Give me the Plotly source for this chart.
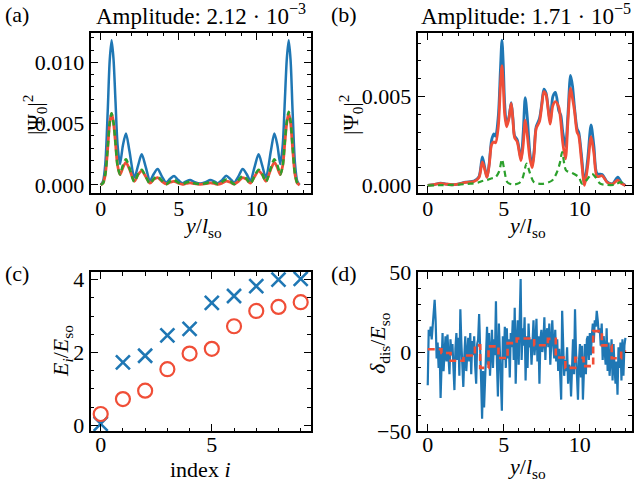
import numpy as np
import plotly.graph_objects as go

FONT = "Liberation Serif"
FS = 22
W, H = 636, 485
BLUE = "#1f77b4"
RED = "#f04e37"
GREEN = "#2ca02c"
E3 = 1e-3

# ---------------- panel (a) ----------------
y_a = [0, 0.15, 0.3, 0.45, 0.58, 0.70, 0.82, 0.95, 1.08, 1.24, 1.42, 1.62, 1.84, 2.16, 2.40,
       2.63, 2.88, 3.16, 3.40, 3.65, 3.92, 4.19, 4.45, 4.70, 4.97, 5.24, 5.48, 5.73, 6.0,
       6.375,
       6.75, 7.02, 7.27, 7.51, 7.78, 8.05, 8.30, 8.56, 8.83, 9.10, 9.35, 9.59, 9.87, 10.12,
       10.35, 10.59, 10.91, 11.13, 11.33, 11.51, 11.67, 11.80, 11.93, 12.05, 12.17, 12.30,
       12.45, 12.60, 12.75]
psi_a_blue = [0, 0.3, 1.8, 6.0, 10.2, 11.8, 10.3, 6.8, 3.3, 1.7, 3.2, 4.2, 2.8, 0.6, 1.6,
              2.5, 1.5, 0.35, 0.9, 1.3, 0.7, 0.2, 0.5, 0.73, 0.4, 0.14, 0.3, 0.4, 0.25,
              0.12,
              0.25, 0.4, 0.3, 0.14, 0.4, 0.76, 0.5, 0.2, 0.7, 1.3, 0.9, 0.35, 1.5, 2.5,
              1.6, 0.6, 2.8, 4.2, 3.2, 1.7, 3.3, 6.8, 10.3, 11.8, 10.2, 6.0, 1.8, 0.3, 0]
psi_a_red = [0, 0.15, 0.9, 3.0, 5.1, 5.84, 5.1, 3.4, 1.6, 0.85, 1.4, 1.85, 1.3, 0.3, 0.85,
             1.15, 0.7, 0.15, 0.45, 0.6, 0.3, 0.08, 0.22, 0.3, 0.15, 0.05, 0.12, 0.17, 0.1,
             0.05,
             0.1, 0.17, 0.12, 0.05, 0.15, 0.32, 0.22, 0.08, 0.3, 0.6, 0.45, 0.15, 0.7, 1.15,
             0.85, 0.3, 1.3, 1.85, 1.4, 0.85, 1.6, 3.4, 5.1, 5.84, 5.1, 3.0, 0.9, 0.15, 0]
psi_a_green = [0, 0.15, 0.9, 3.0, 5.1, 5.84, 5.1, 3.4, 1.6, 0.85, 1.6, 2.1, 1.4, 0.25, 0.9,
               1.25, 0.7, 0.1, 0.5, 0.7, 0.35, 0.06, 0.3, 0.42, 0.2, 0.06, 0.2, 0.27, 0.14,
               0.08,
               0.14, 0.27, 0.2, 0.06, 0.25, 0.45, 0.3, 0.06, 0.4, 0.75, 0.5, 0.1, 0.75, 1.25,
               0.9, 0.25, 1.4, 2.1, 1.6, 0.85, 1.6, 3.5, 5.2, 5.98, 5.2, 3.1, 0.9, 0.15, 0]

# ---------------- panel (b) ----------------
y_b = [0, 0.4, 0.85, 1.2, 1.6, 2.0, 2.5, 3.04, 3.37, 3.59, 3.75, 3.9, 4.05, 4.2, 4.35, 4.46,
       4.64, 4.78, 4.88, 4.97, 5.06, 5.19, 5.35, 5.49, 5.6, 5.71, 5.89, 6.13, 6.28, 6.41,
       6.55, 6.72, 6.87, 7.0, 7.13, 7.35, 7.5, 7.64, 7.78, 7.9, 8.05, 8.23, 8.4, 8.62, 8.75,
       8.88, 9.06, 9.22, 9.39, 9.52, 9.65, 9.82, 9.93, 10.1, 10.31, 10.52, 10.74, 10.93,
       11.14, 11.47, 11.8, 12.15, 12.5, 12.75, 13.0]
psi_b_blue = [0, 0.05, 0.13, 0.08, 0.04, 0.08, 0.19, 0.25, 0.5, 1.6, 1.0, 0.47, 1.3, 2.55,
              2.9, 2.77, 3.9, 6.5, 8.17, 6.8, 4.6, 3.4, 3.9, 4.66, 3.8, 2.8, 2.55, 1.5, 3.0,
              4.94, 3.8, 1.8, 1.1, 2.0, 3.3, 3.77, 4.6, 5.42, 5.2, 4.5, 3.58, 5.0, 5.23, 4.2,
              3.95, 3.0, 2.2, 4.0, 6.19, 5.6, 4.4, 3.2, 3.0, 1.8, 0.12, 1.5, 3.4, 2.2, 0.66,
              0.62, 0.2, 0.1, 0.47, 0.15, 0]
psi_b_red = [0, 0.05, 0.12, 0.08, 0.04, 0.08, 0.17, 0.22, 0.45, 1.32, 0.9, 0.45, 1.2, 2.3,
             2.45, 2.4, 3.3, 5.6, 6.74, 5.6, 4.0, 3.3, 3.8, 4.62, 3.7, 2.7, 2.45, 1.4, 2.3,
             3.68, 2.8, 1.5, 1.0, 1.8, 3.2, 3.6, 4.5, 5.28, 5.1, 4.4, 3.45, 4.5, 4.72, 4.4,
             3.6, 2.4, 1.5, 3.6, 5.47, 4.9, 4.2, 3.0, 2.8, 1.5, 0.0, 1.1, 2.74, 1.8, 0.5,
             0.55, 0.18, 0.08, 0.3, 0.1, 0]
y_b_green = [0, 1.0, 2.0, 2.8, 3.3, 3.59, 3.9, 4.13, 4.46, 4.7, 4.88, 5.03, 5.23, 5.56, 6.0,
             6.25, 6.5, 6.72, 6.98, 7.53, 8.18, 8.5, 8.7, 8.84, 9.1, 9.5, 9.93, 10.15, 10.45,
             10.8, 11.05, 11.36, 12.3, 12.67, 13.0]
psi_b_green = [0, 0.02, 0.05, 0.1, 0.16, 0.25, 0.3, 0.38, 0.47, 0.8, 1.47, 0.9, 0.19, 0.06,
               0.13, 0.45, 1.23, 0.7, 0.19, 0.09, 0.28, 0.75, 1.3, 1.87, 0.85, 0.7, 0.47,
               0.1, 0.3, 0.66, 0.45, 0.1, 0.04, 0.19, 0.0]

# ---------------- panel (c) ----------------
index_i = [0, 1, 2, 3, 4, 5, 6, 7, 8, 9]
E_blue = [0.04, 1.73, 1.91, 2.47, 2.65, 3.36, 3.55, 3.82, 4.0, 4.02]
E_red = [0.31, 0.72, 0.95, 1.54, 1.97, 2.1, 2.72, 3.14, 3.25, 3.38]

# ---------------- panel (d) ----------------
delta_dis = [-21, 14, 10, 16, 8, 17, 25, 33, 20, -4,
             6, -10, 3, -29, -8, 12, -12, 2, 10, -6,
             11, -3, -14, 8, -2, 5, -18, -24, 2, 12,
             -5, 9, -15, 27, 6, -8, -22, -3, 10, -12,
             4, 9, -6, 12, -14, 7, -2, 10, -9, -20,
             5, 8, 24, -6, -18, -42, -12, -35, -20, 6,
             16, -8, 12, -15, 3, 14, -10, 8, -2, 32,
             -6, -28, 18, 2, -14, -37, 10, -5, 16, -10,
             15, -4, 8, -16, 12, 3, 20, -5, 28, -20,
             6, 20, -8, 14, 46, -5, 15, 4, 22, -18,
             10, -10, 18, 3, 8, -8, 12, 20, -2, 6,
             21, -6, 10, -20, 8, 14, 0, 6, 22, -5,
             12, 15, 3, 18, -8, 10, 20, 5, -4, 14,
             -6, 8, -12, 2, -18, -30, 26, 4, -15, -5,
             -12, 3, -20, -8, -10, -28, -3, 8, -14, 27,
             0, -12, -30, -6, 5, -16, 4, -30, -10, 5,
             -14, 8, 10, -5, 12, -2, 10, 18, 6, 20,
             16, 26, 20, 12, 15, 4, 18, -5, 10, 2,
             -8, 15, -12, 6, -15, -4, 8, -18, 5, -10,
             -20, -6, -27, 3, -10, 6, -18, 8, -15, 4,
             9]
y_d = np.linspace(0, 13.0, len(delta_dis))
step_edges = [0, 0.9, 1.5, 2.35, 3.1, 3.45, 4.0, 4.65, 5.25, 5.85, 6.6, 7.0, 7.9, 8.42,
              9.05, 9.7, 10.25, 10.88, 11.45, 12.1, 12.72, 13.05]
step_vals = [1.8, -0.6, -5.5, -2.2, 4.2, -10.0, 3.6, -3.8, 5.6, 8.5, 8.5, 4.3, 8.3, -3.4,
             -10.0, -3.6, -8.9, 13.2, 4.2, -3.9, 0.3]

fig = go.Figure()

def line(x, y, color, xa, ya, width=2.5, dash="solid", shape="spline"):
    ln = dict(color=color, width=width, dash=dash, shape=shape)
    if shape == "spline":
        ln["smoothing"] = 0.8
    fig.add_trace(go.Scatter(x=x, y=y, mode="lines", xaxis=xa, yaxis=ya, line=ln,
                             showlegend=False, hoverinfo="skip"))

line(y_a, [v * E3 for v in psi_a_blue], BLUE, "x", "y")
line(y_a, [v * E3 for v in psi_a_red], RED, "x", "y", width=2.8)
line(y_a, [v * E3 for v in psi_a_green], GREEN, "x", "y", width=2.5, dash="6px,4px")

line(y_b, [v * E3 for v in psi_b_blue], BLUE, "x2", "y2", width=2.8)
line(y_b, [v * E3 for v in psi_b_red], RED, "x2", "y2", width=2.8)
line(y_b_green, [v * E3 for v in psi_b_green], GREEN, "x2", "y2", width=2.2, dash="6px,4px")

fig.add_trace(go.Scatter(x=index_i, y=E_blue, mode="markers", xaxis="x3", yaxis="y3",
                         marker=dict(symbol="x-thin", size=14, color=BLUE,
                                     line=dict(color=BLUE, width=2.6)),
                         showlegend=False, hoverinfo="skip"))
fig.add_trace(go.Scatter(x=index_i, y=E_red, mode="markers", xaxis="x3", yaxis="y3",
                         marker=dict(symbol="circle-open", size=14, color=RED,
                                     line=dict(color=RED, width=2.2)),
                         showlegend=False, hoverinfo="skip"))

line(list(y_d), delta_dis, BLUE, "x4", "y4", width=2.2, shape="linear")
line(step_edges, step_vals + [step_vals[-1]], RED, "x4", "y4", width=2.6, dash="7px,4px",
     shape="hv")

colL = [90.7 / W, 310.7 / W]
colR = [417.7 / W, 631.5 / W]
rowT = [1 - 193.3 / H, 1 - 32.7 / H]
rowB = [1 - 431.3 / H, 1 - 272.0 / H]

def ax(domain, rng, dtick, minor_dtick, anchor, tickformat=None, standoff=0):
    d = dict(domain=domain, range=rng, dtick=dtick, tick0=0, anchor=anchor,
             automargin=False,
             showline=True, linecolor="black", linewidth=2, mirror="allticks",
             ticks="inside", ticklen=7, tickwidth=1.3, tickcolor="black",
             showgrid=False, zeroline=False, ticklabelstandoff=standoff,
             tickfont=dict(family=FONT, size=FS, color="black"),
             minor=dict(dtick=minor_dtick, tick0=0, ticks="inside", ticklen=3.5,
                        tickwidth=1, tickcolor="black", showgrid=False))
    if tickformat:
        d["tickformat"] = tickformat
    return d

XS = -6
layout = dict(
    width=W, height=H, margin=dict(l=0, r=0, t=0, b=0, autoexpand=False),
    paper_bgcolor="white", plot_bgcolor="white",
    font=dict(family=FONT, size=FS, color="black"),
    xaxis=ax(colL, [-0.64, 13.46], 5, 1, "y", standoff=XS),
    yaxis=ax(rowT, [-0.00068, 0.01242], 0.005, 0.001, "x", ".3f"),
    xaxis2=ax(colR, [-0.66, 13.4], 5, 1, "y2", standoff=XS),
    yaxis2=ax(rowT, [-0.00044, 0.00859], 0.005, 0.001, "x2", ".3f"),
    xaxis3=ax(colL, [-0.45, 9.45], 5, 1, "y3", standoff=-8),
    yaxis3=ax(rowB, [-0.165, 4.21], 2, 0.5, "x3"),
    xaxis4=ax(colR, [-0.66, 13.4], 5, 1, "y4", standoff=-8),
    yaxis4=ax(rowB, [-50, 50.5], 50, 10, "x4"),
)
fig.update_layout(**layout)

def ann(text, x, y, angle=0, size=FS, xanchor="center"):
    fig.add_annotation(text=text, x=x / W, y=1 - y / H, xref="paper", yref="paper",
                       showarrow=False, textangle=angle, xanchor=xanchor, yanchor="middle",
                       borderpad=0,
                       font=dict(family=FONT, size=size, color="black"))

# panel labels
ann("(a)", 4, 14, xanchor="left")
ann("(b)", 330, 14, xanchor="left")
ann("(c)", 4, 273, xanchor="left")
ann("(d)", 330, 273, xanchor="left")
# titles
ann("Amplitude: 2.12 · 10<sup>−3</sup>", 201, 14, size=23)
ann("Amplitude: 1.71 · 10<sup>−5</sup>", 526, 14, size=23)
# axis titles
xt = "<i>y</i>/<i>l</i><sub>so</sub>"
ann(xt, 203, 227)
ann(xt, 527, 227)
ann("index <i>i</i>", 200.7, 469)
ann(xt, 527, 468)
ann("|Ψ<sub>0</sub>|<sup>2</sup>", 34, 115, angle=-90)
ann("|Ψ<sub>0</sub>|<sup>2</sup>", 350, 115, angle=-90)
ann("<i>E<sub>i</sub></i>/<i>E</i><sub>so</sub>", 62, 351, angle=-90)
ann("<i>δ</i><sub>dis</sub>/<i>E</i><sub>so</sub>", 379, 343, angle=-90)

fig.write_html("out.html", config={"displayModeBar": False},
               post_script="document.body.style.margin='0px';document.body.style.padding='0px';")
